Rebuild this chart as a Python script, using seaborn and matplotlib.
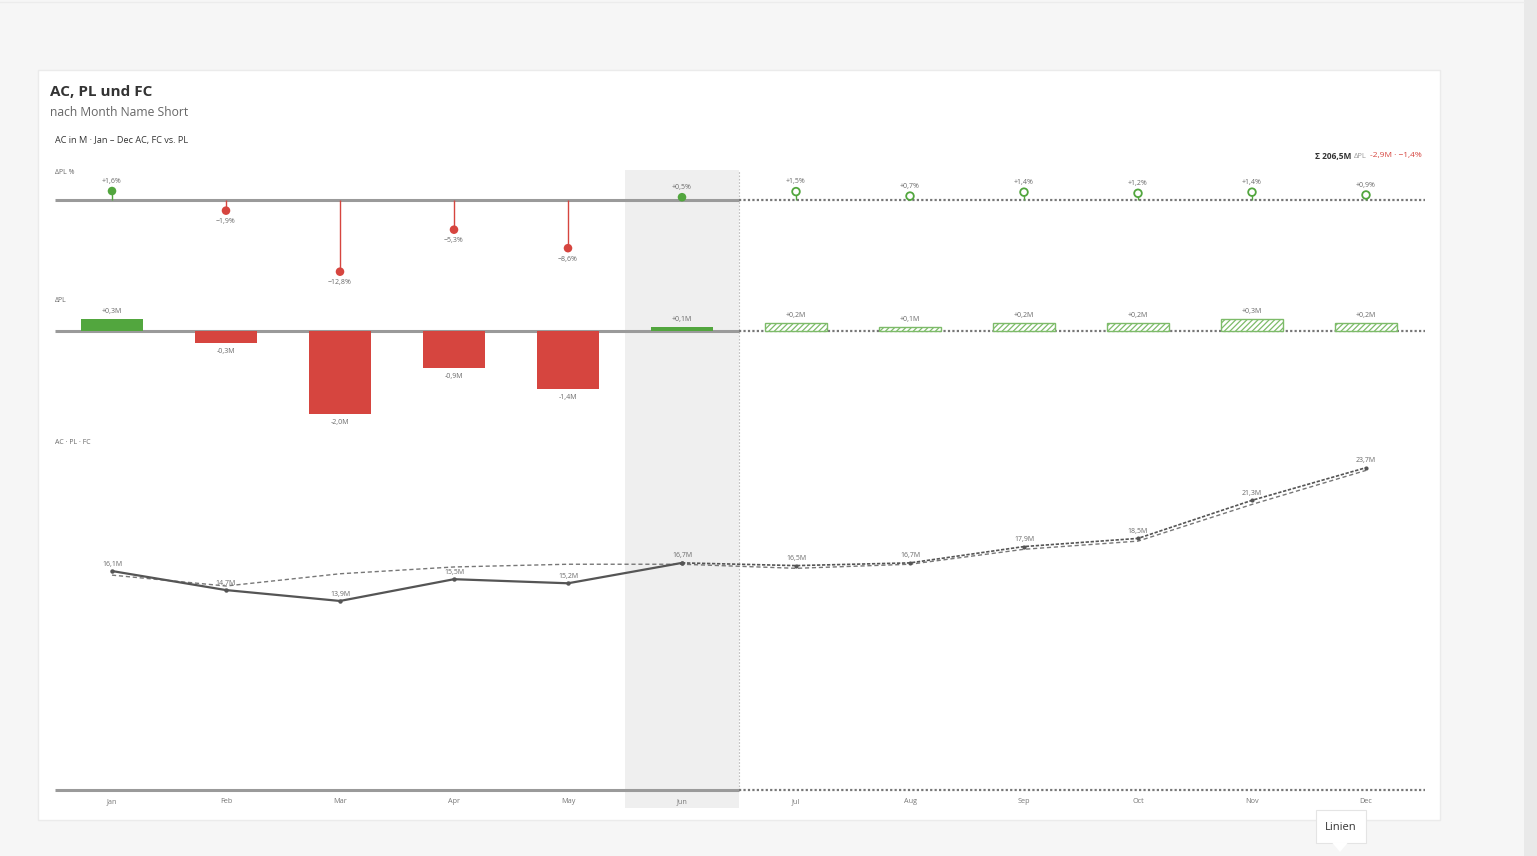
import numpy as np
import pandas as pd
import matplotlib
matplotlib.use("Agg")
import matplotlib.pyplot as plt
import matplotlib.patches as mpatches
import matplotlib.transforms as mtransforms
import seaborn as sns

# ---------------- data ----------------
months = ["Jan", "Feb", "Mar", "Apr", "May", "Jun", "Jul", "Aug", "Sep", "Oct", "Nov", "Dec"]
n_actual = 6  # Jan..Jun are actuals, Jul..Dec forecast
dpl_pct = [1.6, -1.9, -12.8, -5.3, -8.6, 0.5, 1.5, 0.7, 1.4, 1.2, 1.4, 0.9]
dpl_abs = [0.3, -0.3, -2.0, -0.9, -1.4, 0.1, 0.2, 0.1, 0.2, 0.2, 0.3, 0.2]
ac_vals = [16.1, 14.7, 13.9, 15.5, 15.2, 16.7]
fc_vals = [16.7, 16.5, 16.7, 17.9, 18.5, 21.3, 23.7]   # Jun (AC) .. Dec
pl_vals = [15.8, 15.0, 15.9, 16.4, 16.6, 16.6, 16.3, 16.6, 17.7, 18.3, 21.0, 23.5]
total_label = "Σ 206,5M"
total_dpl_label = "-2,9M · −1,4%"

W, H = 1537, 856
GREEN = "#52a63e"
GREEN_LIGHT = "#7dbb69"
RED = "#d6453f"
GRAY_TXT = "#6a6a6a"
BASE_GRAY = "#9a9a9a"

sns.set_theme(style="white")
plt.rcParams["font.family"] = ["Open Sans", "DejaVu Sans"]
plt.rcParams["hatch.color"] = GREEN_LIGHT
plt.rcParams["hatch.linewidth"] = 0.9

fig = plt.figure(figsize=(W / 100, H / 100), dpi=100)
fig.patch.set_facecolor("#f6f6f6")


def fx(px):
    return px / W


def fy(py):
    return 1 - py / H


def ftext(px, py, s, **kw):
    return fig.text(fx(px), fy(py), s, **kw)


# background decorations: card, scrollbar strip, top hairline
fig.add_artist(mpatches.Rectangle((fx(38), fy(820)), fx(1440) - fx(38), fy(70) - fy(820),
                                  transform=fig.transFigure, facecolor="white",
                                  edgecolor="#ebebeb", lw=1, zorder=0))
fig.add_artist(mpatches.Rectangle((fx(1524), 0), fx(1537) - fx(1524), 1,
                                  transform=fig.transFigure, facecolor="#e9e9e9",
                                  edgecolor="none", zorder=0))
fig.add_artist(plt.Line2D([0, fx(1524)], [fy(2), fy(2)], transform=fig.transFigure,
                          color="#ececec", lw=1, zorder=0))

# titles
ftext(50, 92, "AC, PL und FC", fontsize=11, fontweight="bold", color="#333333", va="center")
ftext(50, 113, "nach Month Name Short", fontsize=8.7, color="#666666", va="center")
ftext(55, 140, "AC in M · Jan – Dec AC, FC vs. PL", fontsize=6.6, color="#333333", va="center")
ftext(55, 172, "ΔPL %", fontsize=5, color=GRAY_TXT, va="center")
ftext(55, 300, "ΔPL", fontsize=5, color=GRAY_TXT, va="center")
ftext(55, 442, "AC · PL · FC", fontsize=5, color=GRAY_TXT, va="center")

# x geometry
X_LEFT, X_RIGHT, X0, DX = 55, 1425, 112, 114
xlim = ((X_LEFT - X0) / DX, (X_RIGHT - X0) / DX)
idx = np.arange(len(months))


def make_ax(top, bottom, ylim):
    ax = fig.add_axes([fx(X_LEFT), fy(bottom), fx(X_RIGHT) - fx(X_LEFT), fy(top) - fy(bottom)])
    ax.set_facecolor("none")
    for s in ax.spines.values():
        s.set_visible(False)
    ax.set_xlim(*xlim)
    ax.set_ylim(*ylim)
    ax.set_yticks([])
    ax.set_xticks([])
    return ax


def baseline(ax, y=0.0):
    split = n_actual - 0.5
    ax.plot([xlim[0], split], [y, y], color=BASE_GRAY, lw=2.2, solid_capstyle="butt",
            zorder=2, clip_on=False)
    ax.plot([split, xlim[1]], [y, y], color="#777777", lw=1.6, ls=(0, (1, 1)),
            zorder=2, clip_on=False)


# ---------- panel 1: ΔPL % lollipops ----------
s1 = 5.6  # px per %
ax1 = make_ax(165, 295, (-(295 - 200) / s1, (200 - 165) / s1))
ax1.set_zorder(3)
baseline(ax1)
cols1 = [GREEN if v >= 0 else RED for v in dpl_pct]
ax1.vlines(idx, 0, dpl_pct, colors=cols1, lw=1.0, zorder=3)
df1 = pd.DataFrame({"x": idx, "v": dpl_pct, "c": cols1, "act": idx < n_actual})
act = df1[df1.act]
fc = df1[~df1.act]
sns.scatterplot(x=act.x, y=act.v, ax=ax1, c=act.c.tolist(), s=38, edgecolor="none", zorder=4)
sns.scatterplot(x=fc.x, y=fc.v, ax=ax1, facecolor="white", edgecolor=fc.c.tolist(),
                linewidth=1.3, s=30, zorder=4)
for i, v in enumerate(dpl_pct):
    txt = ("+" if v >= 0 else "−") + f"{abs(v):.1f}".replace(".", ",") + "%"
    ax1.annotate(txt, (i, v), xytext=(0, 7 if v >= 0 else -8), textcoords="offset points",
                 ha="center", va="center", fontsize=5, color=GRAY_TXT)
ax1.set_xlim(*xlim)
ax1.set_xlabel("")
ax1.set_ylabel("")

# ---------- panel 2: ΔPL bars ----------
s2 = 41.5  # px per M
ax2 = make_ax(300, 430, (-(430 - 331) / s2, (331 - 300) / s2))
ax2.set_zorder(3)
df2 = pd.DataFrame({"month": months, "v": dpl_abs})
sns.barplot(data=df2, x="month", y="v", order=months, ax=ax2, width=0.55, color=GREEN,
            saturation=1, zorder=3)
for i, p in enumerate(ax2.patches):
    v = dpl_abs[i]
    if i < n_actual:
        p.set_facecolor(GREEN if v >= 0 else RED)
        p.set_edgecolor("none")
    else:
        p.set_facecolor("white")
        p.set_edgecolor(GREEN_LIGHT)
        p.set_hatch("//////")
        p.set_linewidth(1.0)
for i, v in enumerate(dpl_abs):
    txt = ("+" if v >= 0 else "-") + f"{abs(v):.1f}".replace(".", ",") + "M"
    ax2.annotate(txt, (i, v), xytext=(0, 5 if v >= 0 else -6), textcoords="offset points",
                 ha="center", va="center", fontsize=5, color=GRAY_TXT)
baseline(ax2)
ax2.set_xlim(*xlim)
ax2.set_xticks([])
ax2.set_xlabel("")
ax2.set_ylabel("")

# ---------- panel 3: AC / PL / FC lines ----------
s3 = 13.6
ax3 = make_ax(440, 790, (0, (790 - 440) / s3))
ax3.set_zorder(3)
sns.lineplot(x=idx, y=pl_vals, ax=ax3, color="#777777", lw=1.0, linestyle=(0, (3, 2)), zorder=3)
sns.lineplot(x=idx[n_actual - 1:], y=fc_vals, ax=ax3, color="#555555", lw=1.2,
             linestyle=(0, (2, 1)), marker="o", markersize=3, markeredgewidth=0, zorder=4)
sns.lineplot(x=idx[:n_actual], y=ac_vals, ax=ax3, color="#555555", lw=1.6, marker="o",
             markersize=3.2, markeredgewidth=0, zorder=5)
labels3 = ac_vals + fc_vals[1:]
for i, v in enumerate(labels3):
    ax3.annotate(f"{v:.1f}".replace(".", ",") + "M", (i, v), xytext=(0, 5), textcoords="offset points",
                 ha="center", va="center", fontsize=5, color=GRAY_TXT)
baseline(ax3)
ax3.set_xlim(*xlim)
ax3.set_xticks(idx)
ax3.set_xticklabels(months, fontsize=5.2, color="#777777")
ax3.tick_params(axis="x", length=0, pad=6)
ax3.set_xlabel("")
ax3.set_ylabel("")

# ---------- Jun highlight band & forecast divider ----------
tr = mtransforms.blended_transform_factory(ax3.transData, fig.transFigure)
fig.add_artist(mpatches.Rectangle((n_actual - 1.5, fy(808)), 1.0, fy(170) - fy(808),
                                  transform=tr, facecolor="#efefef", edgecolor="none", zorder=1))
fig.add_artist(plt.Line2D([n_actual - 0.5, n_actual - 0.5], [fy(790), fy(170)], transform=tr,
                          color="#bdbdbd", lw=0.8, ls=(0, (1.5, 1.5)), zorder=1))

# ---------- summary text top-right ----------
fig.canvas.draw()
r = fig.canvas.get_renderer()
t_red = ftext(1422, 156, total_dpl_label, fontsize=6, color=RED, ha="right", va="center")
bb = t_red.get_window_extent(r)
t_d = fig.text((bb.x0 - 3) / W, fy(156), "ΔPL", fontsize=5.4, color="#999999", ha="right", va="center")
bb2 = t_d.get_window_extent(r)
fig.text((bb2.x0 - 3) / W, fy(156), total_label, fontsize=6, color="#333333",
         ha="right", va="center", fontweight="bold")

# ---------- "Linien" tooltip ----------
fig.add_artist(mpatches.Rectangle((fx(1316), fy(843)), fx(1366) - fx(1316), fy(810) - fy(843),
                                  transform=fig.transFigure, facecolor="white",
                                  edgecolor="#e4e4e4", lw=0.8, zorder=6))
fig.add_artist(mpatches.Polygon([(fx(1332), fy(842.5)), (fx(1348), fy(842.5)), (fx(1340), fy(852))],
                                closed=True, transform=fig.transFigure, facecolor="white",
                                edgecolor="none", zorder=7))
ftext(1341, 827, "Linien", fontsize=8, color="#333333", ha="center", va="center", zorder=8)

fig.savefig("out.png", dpi=100, facecolor=fig.get_facecolor())
